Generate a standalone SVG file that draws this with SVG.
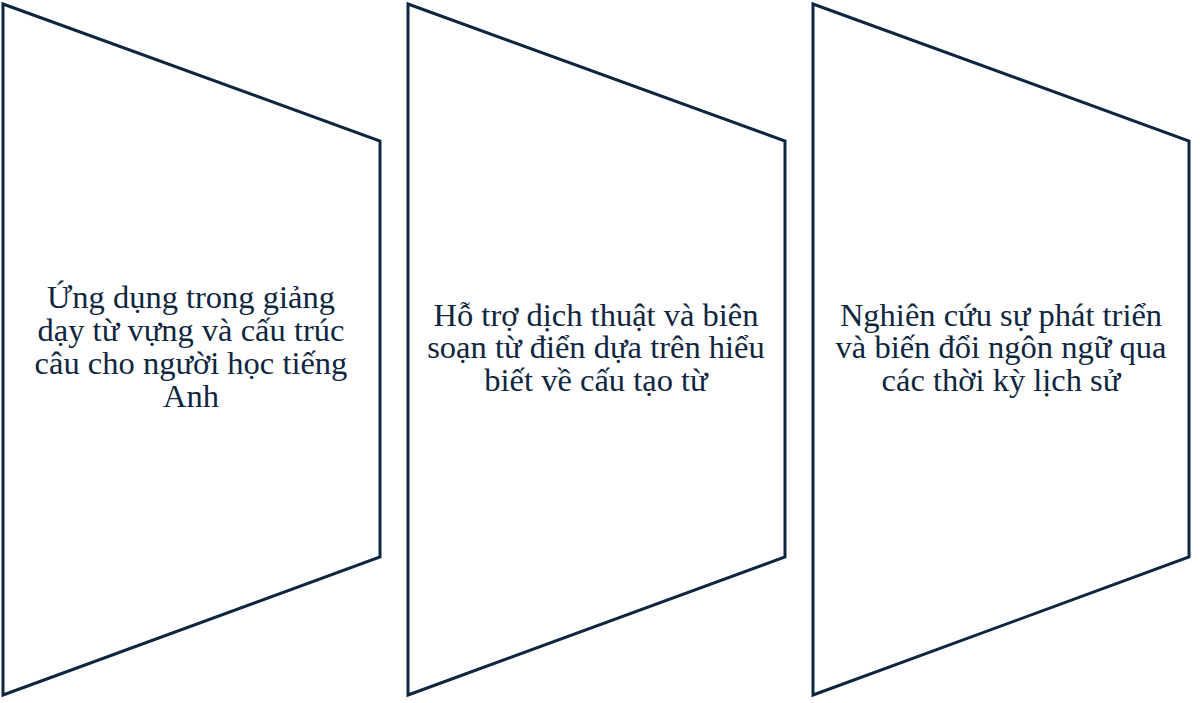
<svg xmlns="http://www.w3.org/2000/svg" width="1200" height="703" viewBox="0 0 1200 703">
<style>
.shape{fill:#ffffff;stroke:#0f2641;stroke-width:3;stroke-linejoin:miter}
.lbl{font-family:"Liberation Serif","Times New Roman",serif;font-size:32.5px;fill:#0f2641;text-anchor:middle}
</style>
<rect width="1200" height="703" fill="#ffffff"/>
<g id="node1">
<polygon class="shape" points="3,4 380,141 380,557 3,695"/>
<text class="lbl" x="191"><tspan x="191" y="308">Ứng dụng trong giảng</tspan><tspan x="191" y="341">dạy từ vựng và cấu trúc</tspan><tspan x="191" y="374">câu cho người học tiếng</tspan><tspan x="191" y="407">Anh</tspan></text>
</g>
<g id="node2">
<polygon class="shape" points="408,4 785,141 785,557 408,695"/>
<text class="lbl" x="596"><tspan x="596" y="326">Hỗ trợ dịch thuật và biên</tspan><tspan x="596" y="358">soạn từ điển dựa trên hiểu</tspan><tspan x="596" y="391">biết về cấu tạo từ</tspan></text>
</g>
<g id="node3">
<polygon class="shape" points="813,4 1189,141 1189,557 813,695"/>
<text class="lbl" x="1001"><tspan x="1001" y="326">Nghiên cứu sự phát triển</tspan><tspan x="1001" y="358">và biến đổi ngôn ngữ qua</tspan><tspan x="1001" y="391">các thời kỳ lịch sử</tspan></text>
</g>
<g id="connectors"></g>
</svg>
